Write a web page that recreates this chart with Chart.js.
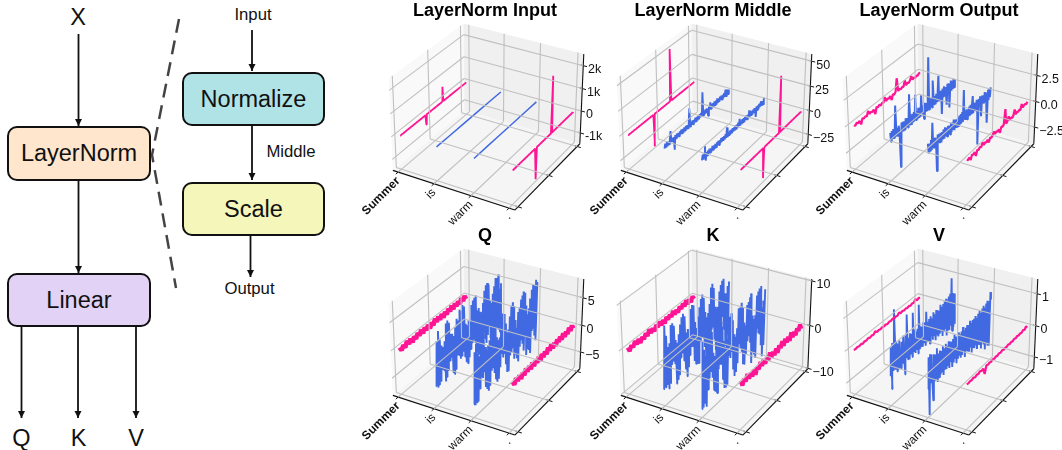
<!DOCTYPE html>
<html>
<head>
<meta charset="utf-8">
<title>LayerNorm</title>
<script src="https://cdn.jsdelivr.net/npm/chart.js@4"></script>
<style>
  html, body { margin: 0; width: 1062px; height: 450px; overflow: hidden; background: #fff; }
  body { position: relative; font-family: "Liberation Sans", Arial, sans-serif; color: #111; }
  canvas { position: absolute; }
  svg { position: absolute; left: 0; top: 0; }
  .box { position: absolute; box-sizing: border-box; border: 2px solid #111; border-radius: 10px;
         display: flex; align-items: center; justify-content: center; font-size: 23.5px; }
  .lbl { position: absolute; transform: translate(-50%, -50%); white-space: nowrap; }
  .big { font-size: 23.5px; }
  .small { font-size: 16.7px; }
</style>
</head>
<body>
<svg width="340" height="450">
  <defs>
    <marker id="head" markerUnits="userSpaceOnUse" markerWidth="9" markerHeight="9" refX="7" refY="3.5" orient="auto">
      <path d="M0,0 L7,3.5 L0,7 Z" fill="#111"/>
    </marker>
  </defs>
  <g stroke="#111" stroke-width="1.8">
    <line x1="78.5" y1="34" x2="78.5" y2="126" marker-end="url(#head)"/>
    <line x1="78.5" y1="181" x2="78.5" y2="273" marker-end="url(#head)"/>
    <line x1="21.5" y1="327" x2="21.5" y2="418" marker-end="url(#head)"/>
    <line x1="78" y1="327" x2="78" y2="418" marker-end="url(#head)"/>
    <line x1="136" y1="327" x2="136" y2="418" marker-end="url(#head)"/>
    <line x1="252" y1="30" x2="252" y2="71" marker-end="url(#head)"/>
    <line x1="252" y1="126" x2="252" y2="180" marker-end="url(#head)"/>
    <line x1="250.5" y1="236" x2="250.5" y2="277" marker-end="url(#head)"/>
  </g>
  <path d="M179,19 L152,155 L176,288" fill="none" stroke="#444" stroke-width="2.5" stroke-dasharray="14,8"/>
</svg>
<div class="box" style="left:7px;top:126px;width:144px;height:55px;background:#FFE6CC">LayerNorm</div>
<div class="box" style="left:7px;top:273px;width:144px;height:54px;background:#E2D3F6">Linear</div>
<div class="box" style="left:182px;top:72px;width:143px;height:54px;background:#B0E3E6">Normalize</div>
<div class="box" style="left:182px;top:182px;width:143px;height:54px;background:#F5F6B9">Scale</div>
<div class="lbl big" style="left:78px;top:17px">X</div>
<div class="lbl big" style="left:21.5px;top:438px">Q</div>
<div class="lbl big" style="left:78.5px;top:438px">K</div>
<div class="lbl big" style="left:136px;top:438px">V</div>
<div class="lbl small" style="left:253px;top:15px">Input</div>
<div class="lbl small" style="left:291px;top:152px">Middle</div>
<div class="lbl small" style="left:249.5px;top:289px">Output</div>

<script>
const tokens = ["Summer", "is", "warm", "."];

// LayerNorm Input
const inputPinkA = [0,0,0,0,0,0,0,0,0,0,0,0,0,0,0,0,0,0,0,0,0,0,0,0,0,0,0,0,0,0,0,0,0,0,0,0,0,-440,0,0,0,0,0,0,0,0,0,0,0,0,0,0,0,0,0,0,0,0,0,0,0,0,660,0,0,0,0,0,0,0,0,0,0,0,0,0,0,0,0,0,0,0,0,0,0,0,0,0,0,0,0,0,0,0,0,0,0,0,0,0];
const inputBlueA = [0,0,0,0,0,0];
const inputBlueB = [0,0,0,0,0,0];
const inputPinkB = [0,0,0,0,0,0,0,0,0,0,0,0,0,0,0,0,0,0,0,0,0,0,0,0,0,0,0,0,0,0,0,0,0,0,0,0,0,-1400,0,0,0,0,0,0,0,0,0,0,0,0,0,0,0,0,0,0,0,0,0,0,0,0,2450,0,0,0,0,0,0,0,0,0,0,0,0,0,0,0,0,0,0,0,0,0,0,0,0,0,0,0,0,0,0,0,0,0,0,0,0,0];

// LayerNorm Middle
const middlePinkA = [0,0,0,0,0,0,0,0,0,0,0,0,0,0,0,0,0,0,0,0,0,0,0,0,0,0,0,0,0,0,0,0,0,0,0,0,0,-33,0,0,0,0,0,0,0,0,0,0,0,0,0,0,0,0,0,0,0,0,0,0,0,0,53,0,0,0,0,0,0,0,0,0,0,0,0,0,0,0,0,0,0,0,0,0,0,0,0,0,0,0,0,0,0,0,0,0,0,0,0,0];
const middleBlueA = [-2.2,2,-1.7,2.4,-2.5,1.8,-2,2.6,10,-1.8,2,-2.3,1.6,-12,2.2,-1.9,2.5,-2.1,1.7,-2.4,2,-1.6,2.3,-2,1.9,-2.5,2.1,-1.8,2.4,-2.2,1.7,-2,2.5,17,-2.3,2,-1.8,2.2,-2.4,1.6,-2.1,2.5,-1.9,2,-2.3,1.8,-2.5,2.2,-1.7,2.4,-2,22,-2.2,1.9,-2.4,2.3,-1.6,2,-2.5,-7,2.1,-1.8,5,-2.2,2.4,-2,1.7,-2.4,2.3,-1.9,2,-2.5,3,-2.1,1.8,-2.3,2.5,-1.7,2.2,-2.4,2,-1.9,2.6,-2.2,5,-2.5,2.3,3,-2,2];
const middleBlueB = [-2.4,2.6,-3,2,9,-6,1.8,-2.3,2.1,-1.7,2.4,-2,1.6,-2.2,2.5,-1.9,2,-2.4,1.8,-2.1,2.3,-1.6,2.2,-2.5,1.9,-2,2.4,-1.8,2.1,-2.3,1.7,-2.2,2.5,-1.9,8,-2.4,2,-1.7,2.3,-2.1,1.8,-2.5,2.2,-2,1.6,-2.3,2.4,-1.8,2,-2.2,2.5,-1.7,5,-2.4,1.9,-2.1,2.3,-1.6,2.2,-2.5,2,-1.9,2.4,-2.3,1.7,-2,5,-2.2,2.5,-1.8,2.1,-2.4,1.9,-2,2.3,-1.7,-8,2.2,-2.1,1.8,-2.5,2.4,-1.6,2,3,-2.3,2.1,-1.9,2.6,4];
const middlePinkB = [0,0,0,0,0,0,0,0,0,0,0,0,0,0,0,0,0,0,0,0,0,0,0,0,0,0,0,0,0,0,0,0,0,0,0,0,-31,0,0,0,0,0,0,0,0,0,0,0,0,0,0,0,0,0,0,0,0,0,0,0,0,0,56,0,0,0,0,0,0,0,0,0,0,0,0,0,0,0,0,0,0,0,0,0,0,0,0,0,0,0,0,0,0,0,0,0,0,0,0,0];

// LayerNorm Output
const outputPinkA = [0.05,-0.08,0.08,-0.05,0.05,-0.4,0.08,-0.05,0.05,-0.08,0.35,-0.05,0.05,-0.08,0.05,-0.5,0.08,-0.05,0.08,-0.08,0.05,-0.05,0.4,-0.08,0.05,-0.05,0.08,-0.4,0.05,-0.08,0.08,1.3,-0.05,0.08,-0.08,0.05,-0.05,0.5,-0.08,0.05,-0.05,0.08,0.4,-0.05,0.08,-0.08,0.05,-0.05,0.08,0.05];
const outputBlueA = [0.4,-0.5,0.45,-0.35,0.5,-0.4,0.55,2.5,-0.45,0.35,-0.5,0.4,-0.55,-3.7,0.5,-0.35,0.45,-0.5,0.4,-0.45,0.55,-0.35,0.45,-0.5,0.35,2.5,-0.4,0.5,-0.55,0.45,-0.35,0.5,-0.4,2,-0.45,0.35,-0.5,0.55,-0.4,0.45,-0.5,1.5,-0.35,0.4,-0.55,-1,0.5,-0.45,0.35,-0.4,0.55,4.5,-0.5,0.4,-0.35,0.45,-0.55,2,0.5,-0.4,0.35,-0.5,0.45,-0.35,0.55,2,-0.45,0.4,-0.5,0.35,-2,0.45,-0.4,0.55,-0.5,0.35,-0.45,-1.5,0.5,-0.4,0.45,-2,-0.35,0.55,-0.5,0.4,-0.45,0.5,-0.4,0.35];
const outputBlueB = [0.45,-0.5,0.35,-0.4,0.55,-0.45,2,-0.35,0.5,-0.55,0.4,-0.45,-2.9,0.5,-0.35,0.45,-0.5,0.4,-0.55,0.35,-0.4,0.5,-0.45,0.55,-0.35,0.4,-0.5,0.45,-0.4,0.35,-0.55,0.5,-0.45,0.4,-0.35,0.55,-0.5,0.45,-0.4,0.35,-0.5,0.4,-0.55,0.45,-0.35,0.5,-0.4,0.55,-0.45,2.5,-0.35,0.4,-0.5,0.45,-0.55,0.35,-0.4,0.5,-0.45,0.55,-0.35,0.4,1.2,-0.5,0.45,-0.4,0.35,-0.55,0.5,-0.45,-4,0.4,-0.35,0.55,-0.5,-1.5,0.45,-0.4,0.35,-0.5,0.55,-0.45,0.4,-0.35,-2.7,0.5,-0.55,0.45,-0.4,0.5];
const outputPinkB = [0.05,-0.08,0.05,-0.3,0.08,-0.05,0.08,-0.4,0.05,-0.08,0.08,-0.05,0.3,-0.08,0.05,-0.05,0.08,-0.3,0.05,-0.08,0.05,0.3,-0.05,0.08,-0.08,0.05,-0.4,0.08,-0.05,0.05,1.4,-0.08,0.05,0.4,-0.05,0.08,-0.08,0.05,0.5,-0.05,0.08,-0.05,0.05,-0.08,0.4,-0.05,0.05,0.08,-0.05,0.08];

// Q
const qPinkA = [0.4,-0.4,0.3,-0.4,0.5,-0.3,0.4,-0.5,0.3,-0.4,0.4,-0.3,0.5,-0.4,0.4,-0.3,0.4,-0.5,0.3,-0.4,0.5,-0.3,0.4,-0.4,0.4,-0.5,0.3,-0.4,0.4,-0.3,0.5,-0.4,0.4,-0.3,0.3,-0.4,0.5,-0.3,0.4,-0.4];
const qBlueA = [-4.6,3.4,-5.1,4.9,-4.8,3.2,-4.4,1.9,-2.6,1.4,-2.9,2.2,-5.2,5.1,-4.6,5.4,-3.6,4.8,-2.1,2.6,-1.8,2.4,-4.7,1.8,-5.3,3.1,-4.6,4.4,-2.3,3.9,-2.5,5.6,-3.4,5.2,-3.1,6.0,-2.4,5.5,-3.7,2.2,-5.0,1.7,-5.4,2.4,-4.5,2.0,-3.2,4.7,-2.2,5.3,-1.9,5.6,-2.6,5.8,-4.8,2.9,-5.4,3.1,-5.6,2.2,-3.9,1.6,-2.3,3.4,-2.0,5.4,-3.5,6.2,-4.6,6.4,-3.3,5.9,-1.8,2.8,-4.4,2.1,-5.7,3.6,-5.3,4.8,-2.9,6.1,-3.2,5.9,-3.7,6.3,-4.1,3.5,-4.7,4.3];
const qBlueB = [-5.8,3.4,-6.2,4.6,-5.9,2.6,-6.0,2.0,-3.9,5.2,-2.1,5.8,-2.5,5.0,-1.7,2.7,-4.6,1.9,-5.2,2.6,-5.8,3.2,-5.1,4.0,-2.6,5.7,-2.4,6.0,-3.5,5.5,-4.8,2.6,-5.6,1.9,-5.3,2.1,-3.4,5.5,-1.2,5.9,-2.1,5.6,-1.7,3.7,-3.8,1.8,-5.5,2.2,-5.6,4.3,-2.9,5.9,-2.5,6.4,-2.0,5.5,-4.2,2.8,-3.7,1.1,-4.6,3.8,-5.4,4.4,-2.9,5.6,-1.9,6.1,-2.8,6.6,-4.3,6.2,-1.7,3.7,-5.6,1.9,-4.7,2.7,-5.1,4.3,-5.9,5.7,-2.0,6.4,-1.8,6.1,-3.3,6.9,-4.4,6.3];
const qPinkB = [0.4,-0.4,0.5,-0.3,0.4,-0.5,0.3,-0.4,0.5,-0.3,0.4,-0.4,0.5,-0.4,0.3,-0.3,0.4,-0.5,0.4,-0.4,0.3,-0.4,0.5,-0.3,0.5,-0.4,0.3,-0.5,0.4,-0.3,0.4,-0.4,0.5,-0.4,0.3,-0.4,0.5,-0.3,0.4,-0.4];

// K
const kPinkA = [0.5,-0.6,0.4,-0.4,0.7,-0.4,0.5,-0.7,0.3,-0.5,0.5,-0.4,0.8,-0.4,0.4,-0.6,0.5,-0.3,0.7,-0.5,0.4,-0.7,0.5,-0.4,0.4,-0.4,0.7,-0.5,0.3,-0.6,0.5,-0.4,0.6,-0.4,0.8,-0.5,0.4,-0.6,0.5,-0.4];
const kBlueA = [-6.3,7.6,-6.2,5.1,-5.8,2.4,-7.1,2.9,-6.3,6.6,-2.2,6.7,-1.7,5.9,-2.6,2.5,-7.5,1.6,-6.8,3.2,-6.0,5.1,-2.4,6.4,-1.6,6.9,-3.7,6.1,-5.9,2.2,-7.9,2.7,-6.1,2.4,-3.6,6.6,-1.9,7.2,-2.1,6.9,-5.8,2.9,-6.8,1.3,-7.1,3.6,-7.2,5.4,-2.4,7.0,-1.9,7.7,-2.1,6.7,-4.6,3.3,-7.4,1.8,-7.3,2.5,-6.7,4.3,-3.1,7.7,-2.0,8.3,-1.5,7.1,-4.8,2.6,-7.6,1.9,-8.4,2.1,-9.2,5.3,-5.4,6.5,-2.0,7.2,-1.2,7.4,-4.3,3.9,-8.7,3.6,-7.8,5.0,-6.4,5.8];
const kBlueB = [-8.2,6.7,-8.1,4.5,-7.4,2.9,-8.6,2.9,-5.0,6.3,-2.8,7.2,-1.5,6.9,-3.3,2.1,-6.4,1.1,-7.1,3.9,-7.7,5.2,-2.6,7.4,-1.9,7.5,-2.2,6.0,-5.8,2.6,-8.1,1.0,-8.3,2.5,-8.0,3.7,-1.7,6.8,-2.5,7.3,-1.4,5.5,-5.7,2.1,-7.5,1.3,-6.9,2.9,-5.2,7.0,-1.1,6.9,-2.4,7.7,-3.4,6.4,-6.6,2.8,-7.0,1.8,-4.8,6.1,-2.2,6.5,-1.3,7.3,-3.1,7.9,-8.1,2.7,-5.9,1.6,-6.7,2.2,-7.8,6.4,-1.3,7.0,-2.6,7.4,-3.2,7.7,-6.0,2.6,-8.9,3.9,-6.5,6.2];
const kPinkB = [0.7,-0.6,0.5,-0.4,0.9,-0.5,0.4,-0.7,0.5,-1.0,0.4,-0.5,0.8,-0.4,0.7,-0.6,0.4,-0.5,0.9,-0.5,0.4,-0.7,0.5,-0.8,0.5,-0.4,0.8,-0.5,0.7,-0.4,0.5,-0.7,0.9,-0.5,0.4,-0.7,0.5,-0.4,0.8,-0.5];

// V
const vPinkA = [0.01,-0.01,0.01,-0.01,0.01,-0.02,0.01,-0.01,0.02,-0.01,0.01,-0.01,0.06,-0.01,0.01,-0.01,0.01,-0.01,0.01,-0.02,0.01,-0.01,0.02,-0.01,0.01,-0.01,0.05,-0.01,0.02,-0.01,0.01,-0.01,0.01,-0.02,0.01,-0.01,0.07,-0.01,0.02,-0.01];
const vBlueA = [-0.45,0.4,-0.9,0.5,-0.35,0.3,1.45,-0.4,0.45,-0.5,0.35,-0.45,0.4,-0.3,-0.5,0.3,-0.4,0.45,-0.35,-0.8,0.4,-0.3,1.0,-0.4,0.25,-0.45,0.35,-0.3,0.3,-0.45,0.9,-0.3,0.35,-0.4,0.25,-0.35,0.3,-0.5,1.0,-0.4,0.3,-0.35,0.25,-0.4,0.35,-0.3,0.3,-0.45,0.6,-0.35,0.25,-0.4,0.3,-0.5,0.35,-0.3,0.25,-0.45,0.4,-0.35,0.3,-0.55,0.4,-0.4,0.35,-0.5,0.3,-0.45,0.45,-0.4,0.35,-0.6,0.4,-0.5,0.45,-0.45,0.5,-0.7,0.4,-0.55,0.5,-0.6,0.55,-0.5,1.0,-0.7,0.5,-0.6,0.45,-0.55];
const vBlueB = [-0.5,0.45,-1.35,0.5,-0.4,0.45,-0.5,-1.0,0.4,-0.45,0.35,-0.4,0.5,-0.55,0.3,-0.45,0.35,-0.4,0.3,-0.35,0.4,-0.5,0.3,-0.35,0.4,-0.4,0.3,-0.35,0.4,-0.45,0.35,-0.3,0.3,-0.5,0.35,-0.4,0.45,-0.3,0.35,-0.5,0.3,-0.4,0.4,-0.35,0.3,-0.45,0.35,-0.4,0.45,-0.35,0.3,-0.55,0.35,-0.4,0.4,-0.45,0.35,-0.5,0.45,-0.4,0.35,-0.6,0.4,-0.5,0.4,-0.55,0.45,-0.5,0.35,-0.65,0.45,-0.55,0.5,-0.6,0.4,-0.75,0.5,-0.6,0.55,-0.7,0.45,-0.9,0.55,-0.75,0.6,-0.85,0.55,-0.9,0.8,0.55];
const vPinkB = [0.01,-0.01,0.01,-0.01,0.02,-0.02,0.01,-0.01,0.02,-0.01,0.01,-0.2,0.02,-0.01,0.01,-0.01,0.02,-0.01,0.01,-0.01,0.02,-0.01,0.02,-0.01,0.01,-0.01,0.02,-0.01,0.01,-0.01,0.02,-0.01,0.02,-0.01,0.01,-0.01,0.03,-0.01,0.06,-0.01];

const panels = [
  { title: "LayerNorm Input", cx: 488, top: 0, zMin: -1500, zMax: 2500, zTicks: [-1000, 0, 1000, 2000], zLabels: ["-1k", "0", "1k", "2k"],
    pinkA: inputPinkA, blueA: inputBlueA, blueB: inputBlueB, pinkB: inputPinkB, pinkWidth: 1.8, blueWidth: 1.5 },
  { title: "LayerNorm Middle", cx: 715.7, top: 0, zMin: -35, zMax: 57, zTicks: [-25, 0, 25, 50], zLabels: ["\u221225", "0", "25", "50"],
    pinkA: middlePinkA, blueA: middleBlueA, blueB: middleBlueB, pinkB: middlePinkB, pinkWidth: 1.8, blueWidth: 1.9 },
  { title: "LayerNorm Output", cx: 942.4, top: 0, zMin: -4.17, zMax: 4.5, zTicks: [-2.5, 0, 2.5], zLabels: ["\u22122.5", "0.0", "2.5"],
    pinkA: outputPinkA, blueA: outputBlueA, blueB: outputBlueB, pinkB: outputPinkB, pinkWidth: 2.2, blueWidth: 2 },
  { title: "Q", cx: 488, top: 225, zMin: -8.2, zMax: 8.35, zTicks: [-5, 0, 5], zLabels: ["\u22125", "0", "5"],
    pinkA: qPinkA, blueA: qBlueA, blueB: qBlueB, pinkB: qPinkB, pinkWidth: 4.6, blueWidth: 1.9 },
  { title: "K", cx: 715.7, top: 225, zMin: -10.1, zMax: 10.4, zTicks: [-10, 0, 10], zLabels: ["\u221210", "0", "10"],
    pinkA: kPinkA, blueA: kBlueA, blueB: kBlueB, pinkB: kPinkB, pinkWidth: 4.2, blueWidth: 1.9 },
  { title: "V", cx: 942.4, top: 225, zMin: -1.39, zMax: 1.45, zTicks: [-1, 0, 1], zLabels: ["\u22121", "0", "1"],
    pinkA: vPinkA, blueA: vBlueA, blueB: vBlueB, pinkB: vPinkB, pinkWidth: 2.2, blueWidth: 1.9 }
];

// camera of the 3d box, elev 30 azim -60 dist 10
const box = [1.1428, 1.1428, 0.857];
const right = [0.866, 0.5, 0];
const up = [-0.25, 0.433, 0.866];
const toEye = [0.433, -0.75, 0.5];
const dot = (a, b) => a[0] * b[0] + a[1] * b[1] + a[2] * b[2];

function project(nx, ny, nz) {
  const q = [(nx - 0.5) * box[0], (ny - 0.5) * box[1], (nz - 0.5) * box[2]];
  const f = 10 / (10 - dot(toEye, q));
  return { x: dot(right, q) * f, y: dot(up, q) * f };
}

const scalePx = 122.3;
const canvasW = 250, canvasH = 225, centerY = 112.4, leftOfCenter = 128;
const titleSize = 18, titleH = titleSize * 1.2 + 2.4;

// token and dimension axes keep a small margin inside the box
const xNorm = k => (k + 0.15) / 3.3;
const yNorm = f => 0.045 + f * 0.91;

function segment(a, b, color, width) {
  return { data: [project(...a), project(...b)], borderColor: color, borderWidth: width, showLine: true, pointRadius: 0, clip: false };
}

function series(values, k, panel, color, width) {
  const zNorm = v => (v - panel.zMin) / (panel.zMax - panel.zMin);
  const pts = values.map((v, i) => project(xNorm(k), yNorm(i / (values.length - 1)), zNorm(v)));
  return { data: pts, borderColor: color, borderWidth: width, showLine: true, pointRadius: 0, clip: false, borderJoinStyle: "bevel" };
}

const pink = "#FF1493", blue = "#4169E1", gridColor = "#c0c0c0";

panels.forEach(panel => {
  const canvas = document.createElement("canvas");
  canvas.width = canvasW;
  canvas.height = canvasH;
  canvas.style.left = (panel.cx - leftOfCenter) + "px";
  canvas.style.top = panel.top + "px";
  canvas.style.width = canvasW + "px";
  canvas.style.height = canvasH + "px";
  document.body.appendChild(canvas);

  const zNorm = v => (v - panel.zMin) / (panel.zMax - panel.zMin);
  const yTicks = [0, 0.5, 1].map(yNorm);
  const grid = [];
  [0, 1, 2, 3].map(xNorm).forEach(x => {
    grid.push(segment([x, 0, 0], [x, 1, 0], gridColor, 1.1));
    grid.push(segment([x, 1, 0], [x, 1, 1], gridColor, 1.1));
  });
  yTicks.forEach(y => {
    grid.push(segment([0, y, 0], [1, y, 0], gridColor, 1.1));
    grid.push(segment([0, y, 0], [0, y, 1], gridColor, 1.1));
  });
  panel.zTicks.map(zNorm).forEach(z => {
    grid.push(segment([0, 0, z], [0, 1, z], gridColor, 1.1));
    grid.push(segment([0, 1, z], [1, 1, z], gridColor, 1.1));
  });

  const axes = [
    segment([0, 0, 0], [1, 0, 0], "#111", 1.1),
    segment([1, 0, 0], [1, 1, 0], "#111", 1.1),
    segment([1, 1, 0], [1, 1, 1], "#111", 1.1)
  ];
  [0, 1, 2, 3].map(xNorm).forEach(x => axes.push(segment([x, -0.03, 0], [x, 0.02, 0], "#111", 1)));
  yTicks.forEach(y => axes.push(segment([0.98, y, 0], [1.03, y, 0], "#111", 1)));
  panel.zTicks.map(zNorm).forEach(z => axes.push(segment([0.98, 1, z], [1.03, 1, z], "#111", 1)));

  const lines = [
    series(panel.pinkA, 0, panel, pink, panel.pinkWidth),
    series(panel.blueA, 1, panel, blue, panel.blueWidth),
    series(panel.blueB, 2, panel, blue, panel.blueWidth),
    series(panel.pinkB, 3, panel, pink, panel.pinkWidth)
  ];

  new Chart(canvas, {
    type: "scatter",
    data: { datasets: [...grid, ...axes, ...lines] },
    options: {
      responsive: false,
      animation: false,
      events: [],
      layout: { padding: 0 },
      scales: {
        x: { type: "linear", display: false, min: -leftOfCenter / scalePx, max: (canvasW - leftOfCenter) / scalePx },
        y: { type: "linear", display: false, min: (centerY - canvasH) / scalePx, max: (centerY - titleH) / scalePx }
      },
      plugins: {
        legend: { display: false },
        tooltip: { enabled: false },
        title: {
          display: true,
          text: panel.title,
          color: "#000",
          font: { family: "Liberation Sans", size: titleSize, weight: "bold", lineHeight: 1.2 },
          padding: { top: 0, bottom: 2.4 }
        }
      }
    },
    plugins: [{
      id: "box3d",
      beforeDatasetsDraw(chart) {
        const { ctx, scales } = chart;
        const px = p => [scales.x.getPixelForValue(p.x), scales.y.getPixelForValue(p.y)];
        const pane = (color, corners) => {
          ctx.fillStyle = color;
          ctx.beginPath();
          corners.forEach((c, i) => {
            const [a, b] = px(project(...c));
            if (i === 0) ctx.moveTo(a, b); else ctx.lineTo(a, b);
          });
          ctx.closePath();
          ctx.fill();
        };
        pane("#f9f9f9", [[0, 0, 0], [0, 1, 0], [0, 1, 1], [0, 0, 1]]);
        pane("#f0f0f0", [[0, 1, 0], [1, 1, 0], [1, 1, 1], [0, 1, 1]]);
        pane("#f5f5f5", [[0, 0, 0], [1, 0, 0], [1, 1, 0], [0, 1, 0]]);
      },
      afterDatasetsDraw(chart) {
        const { ctx, scales } = chart;
        ctx.save();
        ctx.fillStyle = "#111";
        tokens.forEach((t, k) => {
          const p = project(xNorm(k), 0, 0);
          ctx.save();
          ctx.translate(scales.x.getPixelForValue(p.x), scales.y.getPixelForValue(p.y) + 7);
          ctx.rotate(-Math.PI / 4);
          ctx.font = (k === 0 ? "bold " : "") + "12px 'Liberation Sans'";
          ctx.textAlign = "right";
          ctx.textBaseline = "middle";
          ctx.fillText(t, 0, 0);
          ctx.restore();
        });
        ctx.font = "12.5px 'Liberation Sans'";
        ctx.textAlign = "left";
        ctx.textBaseline = "middle";
        panel.zTicks.forEach((v, i) => {
          const p = project(1.03, 1, zNorm(v));
          ctx.fillText(panel.zLabels[i], scales.x.getPixelForValue(p.x) + 1, scales.y.getPixelForValue(p.y) + 3);
        });
        ctx.restore();
      }
    }]
  });
});
</script>
</body>
</html>
